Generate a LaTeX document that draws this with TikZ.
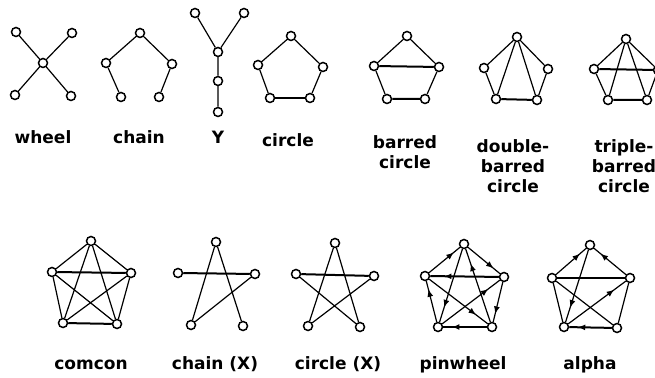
\documentclass[tikz,border=0pt]{standalone}
\usepackage{fontspec}
\setmainfont{DejaVu Sans}
\usepackage{tikz}
\usetikzlibrary{arrows.meta,decorations.markings}

\begin{document}
\begin{tikzpicture}[x=1pt,y=1pt]

    \tikzset{
      vertex/.style={
        circle,
        draw,
        fill=white,
        line width=1.5pt,
        inner sep=0pt,
        minimum size=9pt,
      },
      edge/.style={line width=1.2pt},
      bar/.style={line width=2pt},
      arr/.style={
        postaction={decorate},
        decoration={markings,
          mark=at position 0.8 with {\arrow{Latex[length=7.5pt,width=6pt]}}},
      },
      gname/.style={
        anchor=base,
        align=center,
        inner sep=0pt,
        font=\bfseries\fontsize{17}{20}\selectfont,
      },
    }
    \useasboundingbox (0,0) rectangle (655,377);

    % wheel
    \node[vertex] (wc) at (43,314) {};
    \node[vertex] (wa) at (16,345) {};
    \node[vertex] (wb) at (72,344) {};
    \node[vertex] (wd) at (15,282) {};
    \node[vertex] (we) at (71,281) {};
    \draw[edge] (wc)--(wa) (wc)--(wb) (wc)--(wd) (wc)--(we);
    \node[gname] (wheel) at (43,233) {wheel};

    % chain
    \node[vertex] (ca) at (140,344) {};
    \node[vertex] (cb) at (106,314) {};
    \node[vertex] (cc) at (172,313) {};
    \node[vertex] (cd) at (121,280) {};
    \node[vertex] (ce) at (159,280) {};
    \draw[edge] (cd)--(cb)--(ca)--(cc)--(ce);
    \node[gname] (chain) at (139,233) {chain};

    % Y
    \node[vertex] (ya) at (195,364) {};
    \node[vertex] (yb) at (244,364) {};
    \node[vertex] (yc) at (218,325) {};
    \node[vertex] (yd) at (218,296) {};
    \node[vertex] (ye) at (218,265) {};
    \draw[edge] (ya)--(yc)--(yb) (yc)--(yd)--(ye);
    \node[gname] (yname) at (218,233) {Y};

    % circle
    \node[vertex] (ka) at (291,341) {};
    \node[vertex] (kb) at (258,312) {};
    \node[vertex] (kc) at (323,310) {};
    \node[vertex] (kd) at (270,279) {};
    \node[vertex] (ke) at (310,279) {};
    \draw[edge] (kd)--(kb)--(ka)--(kc)--(ke);
    \draw[bar] (kd)--(ke);
    \node[gname] (circle) at (288,230) {circle};

    % barred circle
    \node[vertex] (ba) at (407,341) {};
    \node[vertex] (bb) at (374,311) {};
    \node[vertex] (bc) at (439,310) {};
    \node[vertex] (bd) at (387,278) {};
    \node[vertex] (be) at (425,278) {};
    \draw[edge] (bd)--(bb)--(ba)--(bc)--(be);
    \draw[bar] (bd)--(be) (bb)--(bc);
    \node[gname] (barred) at (405,208) {barred\\circle};

    % double-barred circle
    \node[vertex] (da) at (517,340) {};
    \node[vertex] (db) at (484,309) {};
    \node[vertex] (dc) at (548,308) {};
    \node[vertex] (dd) at (496,278) {};
    \node[vertex] (de) at (537,277) {};
    \draw[edge] (dd)--(db)--(da)--(dc)--(de) (da)--(dd) (da)--(de);
    \draw[bar] (dd)--(de);
    \node[gname] (double) at (513,184) {double-\\barred\\circle};

    % triple-barred circle
    \node[vertex] (ta) at (626,338) {};
    \node[vertex] (tb) at (594,308) {};
    \node[vertex] (tc) at (658,307) {};
    \node[vertex] (td) at (608,277) {};
    \node[vertex] (te) at (647,277) {};
    \draw[edge] (td)--(tb)--(ta)--(tc)--(te) (ta)--(td) (ta)--(te);
    \draw[bar] (td)--(te) (tb)--(tc);
    \node[gname] (triple) at (624,184) {triple-\\barred\\circle};

    % comcon
    \node[vertex] (ma) at (91,136) {};
    \node[vertex] (mb) at (52,105) {};
    \node[vertex] (mc) at (131,104) {};
    \node[vertex] (md) at (63,54) {};
    \node[vertex] (me) at (117,53) {};
    \draw[edge] (md)--(mb)--(ma)--(mc)--(me) (ma)--(md) (ma)--(me)
      (mb)--(me) (mc)--(md);
    \draw[bar] (md)--(me) (mb)--(mc);
    \node[gname] (comcon) at (91,7) {comcon};

    % chain (X)
    \node[vertex] (xa) at (216,135) {};
    \node[vertex] (xb) at (178,104) {};
    \node[vertex] (xc) at (255,103) {};
    \node[vertex] (xd) at (191,52) {};
    \node[vertex] (xe) at (243,51) {};
    \draw[bar] (xb)--(xc);
    \draw[edge] (xc)--(xd)--(xa)--(xe);
    \node[gname] (chainx) at (215,7) {chain (X)};

    % circle (X)
    \node[vertex] (ra) at (335,134) {};
    \node[vertex] (rb) at (296,103) {};
    \node[vertex] (rc) at (374,101) {};
    \node[vertex] (rd) at (308,51) {};
    \node[vertex] (re) at (360,50) {};
    \draw[bar] (rb)--(rc);
    \draw[edge] (rc)--(rd)--(ra)--(re)--(rb);
    \node[gname] (circlex) at (338,7) {circle (X)};

    % pinwheel
    \node[vertex] (pa) at (464,133) {};
    \node[vertex] (pb) at (425,101) {};
    \node[vertex] (pc) at (504,100) {};
    \node[vertex] (pd) at (438,50) {};
    \node[vertex] (pe) at (492,50) {};
    \draw[edge,arr] (pb)--(pa);
    \draw[edge,arr] (pa)--(pc);
    \draw[edge,arr] (pc)--(pe);
    \draw[bar,arr] (pe)--(pd);
    \draw[edge,arr] (pd)--(pb);
    \draw[bar,arr] (pc)--(pb);
    \draw[edge,arr] (pa)--(pd);
    \draw[edge,arr] (pe)--(pa);
    \draw[edge,arr] (pb)--(pe);
    \draw[edge,arr] (pd)--(pc);
    \node[gname] (pinwheel) at (463,7) {pinwheel};

    % alpha
    \node[vertex] (aa) at (590,132) {};
    \node[vertex] (ab) at (552,99) {};
    \node[vertex] (ac) at (630,99) {};
    \node[vertex] (ad) at (564,50) {};
    \node[vertex] (ae) at (617,49) {};
    \draw[edge,arr] (ab)--(aa);
    \draw[edge,arr] (ac)--(aa);
    \draw[edge,arr] (aa)--(ad);
    \draw[edge,arr] (ad)--(ac);
    \draw[bar,arr] (ae)--(ad);
    \draw[bar] (ab)--(ac);
    \draw[edge] (ab)--(ad) (ac)--(ae) (ab)--(ae);
    \node[gname] (alpha) at (590,7) {alpha};

\end{tikzpicture}
\end{document}
